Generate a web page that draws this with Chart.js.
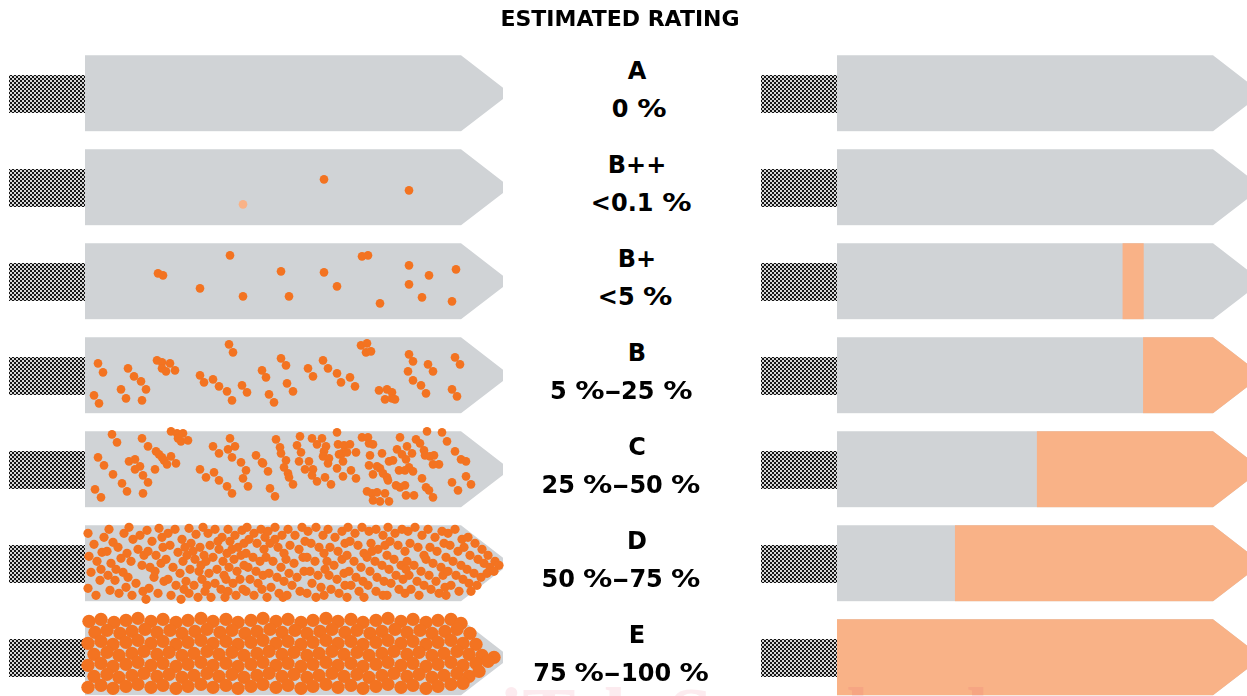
<!DOCTYPE html>
<html>
<head>
<meta charset="utf-8">
<title>Estimated rating</title>
<script src="https://cdn.jsdelivr.net/npm/chart.js@4.4.1/dist/chart.umd.min.js"></script>
<style>
    html, body { margin: 0; padding: 0; background: #fff; }
    #wrap { position: relative; width: 1247px; height: 696px; overflow: hidden; }
    canvas { position: absolute; top: 0; }
    #chartLeft { left: 0; }
    #chartRight { left: 740px; }
    .lbl {
        position: absolute; white-space: nowrap; color: #000;
        font-family: "DejaVu Sans", Verdana, sans-serif; font-weight: bold;
        font-size: 24px; line-height: 28px; height: 28px;
        transform: translateX(-50%);
    }
    .pct { display: inline-block; transform: scaleX(1.22); margin: 0 0.11em; }
    .dash { display: inline-block; transform: scaleX(1.4); margin: 0 0.1em; }
    #title { font-size: 22px; top: 5px; left: 620px; }
    #watermark {
        position: absolute; left: 500px; top: 676px; white-space: nowrap;
        font-family: "Liberation Serif", serif; font-weight: bold; font-size: 80px; line-height: 80px;
        color: rgba(230, 60, 100, 0.1); pointer-events: none;
    }
</style>
</head>
<body>
<div id="wrap">
    <canvas id="chartLeft" width="560" height="696"></canvas>
    <canvas id="chartRight" width="520" height="696"></canvas>
    <div class="lbl" id="title">ESTIMATED RATING</div>
    <div id="labels"></div>
    <div id="watermark">iTeh Standards</div>
</div>

<script>
// ---- data ----
const ratings = ['A', 'B++', 'B+', 'B', 'C', 'D', 'E'];
const ranges = ['0 %', '<0.1 %', '<5 %', '5 %–25 %', '25 %–50 %', '50 %–75 %', '75 %–100 %'];

// right pencils : orange part, in % of the pencil length (null = nothing)
const orangeFrom = [null, null, 68.4, 73.3, 47.9, 28.3, 0];
const orangeTo   = [null, null, 73.3, 100, 100, 100, 100];

// left pencils : dots, pairs x,y read inside the pencil body (418 x 76)
const dotsA = [];
const dotsBpp = [239,30, 324,41];
const dotsBppFaint = [158,55];
const dotsBp = [73,30, 78,32, 145,12, 115,45, 158,53, 196,28, 204,53, 239,29, 252,43, 277,13, 283,12,
    295,60, 324,22, 324,41, 344,32, 337,54, 371,26, 367,58];
const dotsB = [13,26, 18,35, 9,58, 14,66, 43,31, 49,39, 56,44, 61,52, 36,52, 41,61, 57,63, 72,23, 77,25,
    85,26, 77,31, 81,34, 90,33, 144,7, 148,15, 115,38, 119,45, 128,42, 134,49, 142,54, 147,63, 157,48,
    162,55, 177,33, 181,40, 184,57, 189,65, 196,21, 201,28, 202,46, 208,54, 223,31, 228,39, 238,23,
    243,31, 252,36, 256,45, 265,40, 270,49, 276,8, 282,6, 281,15, 286,14, 294,53, 302,52, 307,55, 300,62,
    307,61, 310,62, 324,17, 328,24, 323,34, 328,43, 343,27, 348,34, 336,48, 341,56, 370,20, 375,27,
    367,52, 372,59];
const dotsC = [27,3, 32,11, 13,26, 19,34, 28,43, 10,58, 16,66, 37,52, 42,60, 57,7, 63,15, 44,30, 50,28,
    55,35, 50,38, 58,44, 63,51, 58,62, 70,38, 71,20, 74,23, 77,26, 79,29, 82,33, 86,25, 91,32, 86,0, 92,2,
    98,2, 93,7, 96,10, 103,9, 115,38, 121,46, 129,41, 134,49, 142,55, 147,62, 128,15, 134,22, 143,18,
    145,7, 150,15, 147,26, 156,31, 161,39, 158,47, 163,55, 171,24, 177,31, 178,32, 183,40, 185,57, 190,65,
    191,8, 195,16, 196,22, 201,29, 199,36, 203,42, 204,46, 208,53, 215,5, 212,14, 216,21, 214,30, 220,38,
    224,30, 228,38, 227,44, 232,50, 227,7, 232,13, 237,7, 241,15, 239,20, 238,25, 244,27, 243,32, 252,37,
    240,46, 246,53, 252,1, 253,13, 254,23, 259,14, 265,13, 257,22, 262,21, 258,30, 258,45, 266,39, 271,47,
    271,21, 277,6, 283,6, 284,12, 288,13, 285,24, 284,34, 288,43, 292,35, 297,22, 295,37, 298,42, 302,46,
    303,49, 304,30, 308,29, 312,18, 315,6, 317,23, 321,28, 322,15, 324,36, 327,22, 328,40, 331,8, 335,12,
    339,19, 342,0, 340,24, 345,25, 349,24, 357,1, 362,10, 370,20, 376,28, 381,30, 354,33, 348,33, 337,47,
    341,56, 344,59, 348,66, 311,54, 315,56, 320,54, 321,64, 329,64, 314,39, 320,39, 282,60, 287,62, 292,61,
    300,62, 288,69, 295,70, 304,70, 367,51, 373,59, 381,45, 386,53];
const dotsD = [3,8, 9,19, 4,31, 12,36, 6,47, 15,55, 3,63, 11,70, 17,27, 19,12, 16,44,
    24,4, 28,17, 22,26, 33,22, 26,38, 36,33, 23,50, 30,55, 38,47, 25,65, 34,68, 39,8, 31,44,
    44,2, 48,14, 42,28, 53,24, 46,36, 57,40, 43,52, 51,58, 58,66, 47,70, 55,10, 59,30, 41,62,
    62,5, 67,16, 74,3, 63,26, 71,30, 78,22, 65,42, 76,38, 69,52, 79,56, 64,63, 73,68, 61,74, 77,12, 70,46,
    83,8, 90,4, 97,14, 85,20, 93,27, 81,34, 98,36, 88,42, 95,48, 83,54, 91,60, 99,64, 86,70, 96,74, 100,22,
    104,3, 111,9, 118,2, 106,18, 115,22, 102,30, 110,34, 119,30, 105,44, 114,46, 101,56, 109,60, 117,54,
    104,68, 113,72, 120,66, 108,26, 116,40,
    123,8, 130,4, 137,12, 125,20, 134,24, 121,36, 128,32, 138,36, 124,48, 132,44, 139,50, 122,60, 130,58,
    136,64, 126,72, 140,72, 133,16,
    143,4, 150,10, 157,5, 145,16, 153,22, 159,18, 142,28, 149,34, 156,30, 144,42, 152,46, 159,40, 141,54,
    148,58, 155,54, 143,66, 151,70, 158,64, 147,24,
    162,2, 169,8, 176,4, 164,14, 172,18, 179,24, 161,28, 168,32, 175,36, 163,42, 171,46, 178,50, 165,54,
    173,58, 161,66, 169,70, 177,64, 180,12,
    183,6, 190,2, 197,10, 185,18, 193,22, 199,28, 181,32, 188,36, 196,42, 184,48, 192,52, 199,56, 186,62,
    194,68, 182,72, 198,72, 190,14,
    203,4, 210,10, 217,2, 205,20, 214,24, 201,34, 209,38, 218,32, 204,48, 212,52, 219,46, 207,60, 215,66,
    202,70, 220,16,
    223,6, 231,2, 238,10, 226,18, 234,22, 222,32, 230,36, 239,28, 225,46, 233,50, 240,44, 227,58, 236,62,
    222,68, 231,72, 239,70,
    243,4, 250,12, 257,6, 245,22, 253,26, 260,18, 242,36, 249,40, 257,34, 244,50, 252,54, 259,48, 246,64,
    254,68, 260,60,
    263,2, 270,8, 277,2, 265,16, 273,20, 279,28, 262,30, 269,36, 276,42, 264,46, 271,52, 278,56, 266,60,
    274,66, 262,72, 279,72,
    284,6, 291,4, 298,10, 286,18, 293,24, 300,20, 282,32, 290,36, 297,40, 285,46, 292,52, 299,56, 283,60,
    291,66, 298,70, 287,26,
    303,2, 310,8, 317,4, 305,16, 313,20, 320,26, 302,30, 309,34, 316,40, 304,44, 311,50, 318,54, 306,58,
    314,64, 302,70, 320,68,
    323,6, 330,2, 337,10, 325,18, 333,22, 339,30, 322,36, 329,40, 336,46, 324,50, 332,56, 339,60, 326,64,
    334,70, 321,44,
    343,4, 350,12, 357,6, 345,22, 352,26, 359,18, 341,34, 348,38, 356,42, 344,50, 351,56, 358,50, 346,64,
    354,68, 360,62,
    363,8, 370,4, 377,14, 365,20, 373,26, 379,22, 361,32, 368,36, 376,40, 363,46, 371,50, 378,54, 366,60,
    374,66, 361,70,
    383,12, 390,18, 397,24, 385,30, 393,34, 399,38, 382,44, 389,48, 396,52, 384,58, 392,60, 386,66,
    403,30, 410,36, 405,42, 414,40, 402,48, 409,46];
const dotsE = [4,2, 16,0, 29,3, 41,1, 53,-1, 66,2, 78,0, 91,3, 103,1, 116,-1, 128,2, 141,0, 153,3, 166,1,
    178,-1, 191,2, 203,0, 216,3, 228,1, 241,-1, 253,2, 266,0, 278,3, 291,1, 303,-1, 316,2, 328,0, 341,3,
    353,1, 366,0, 376,4,
    10,13, 22,11, 35,14, 47,12, 60,10, 72,13, 85,11, 97,14, 110,12, 122,10, 135,13, 147,11, 160,14, 172,12,
    185,10, 197,13, 210,11, 222,14, 235,12, 247,10, 260,13, 272,11, 285,14, 297,12, 310,10, 322,13, 335,11,
    347,14, 360,12, 372,10, 385,14,
    3,24, 16,22, 28,25, 41,23, 53,21, 66,24, 78,22, 91,25, 103,23, 116,21, 128,24, 141,22, 153,25, 166,23,
    178,21, 191,24, 203,22, 216,25, 228,23, 241,21, 253,24, 266,22, 278,25, 291,23, 303,21, 316,24, 328,22,
    341,25, 353,23, 366,21, 378,24, 391,25,
    9,35, 22,33, 34,36, 47,34, 59,32, 72,35, 84,33, 97,36, 109,34, 122,32, 134,35, 147,33, 159,36, 172,34,
    184,32, 197,35, 209,33, 222,36, 234,34, 247,32, 259,35, 272,33, 284,36, 297,34, 309,32, 322,35, 334,33,
    347,36, 359,34, 372,32, 384,35, 397,36, 409,38,
    3,46, 16,44, 28,47, 41,45, 53,43, 66,46, 78,44, 91,47, 103,45, 116,43, 128,46, 141,44, 153,47, 166,45,
    178,43, 191,46, 203,44, 216,47, 228,45, 241,43, 253,46, 266,44, 278,47, 291,45, 303,43, 316,46, 328,44,
    341,47, 353,45, 366,43, 378,46, 391,44, 403,42,
    9,57, 22,55, 34,58, 47,56, 59,54, 72,57, 84,55, 97,58, 109,56, 122,54, 134,57, 147,55, 159,58, 172,56,
    184,54, 197,57, 209,55, 222,58, 234,56, 247,54, 259,57, 272,55, 284,58, 297,56, 309,54, 322,57, 334,55,
    347,58, 359,56, 372,54, 384,57, 394,52,
    3,68, 16,66, 28,69, 41,67, 53,65, 66,68, 78,66, 91,69, 103,67, 116,65, 128,68, 141,66, 153,69, 166,67,
    178,65, 191,68, 203,66, 216,69, 228,67, 241,65, 253,68, 266,66, 278,69, 291,67, 303,65, 316,68, 328,66,
    341,69, 353,67, 366,65, 378,64];

const dotRows = [dotsA, dotsBpp, dotsBp, dotsB, dotsC, dotsD, dotsE];
const dotSize = [4.3, 4.3, 4.3, 4.3, 4.3, 4.6, 6.7];

// ---- layout ----
const PENCIL_LEN = 418;   // body length in px
const PENCIL_H = 76;      // body height in px
const PITCH = 94;         // one row = 94 px
const TIP = 42;           // length of the pointed end
const yRange = { min: -0.993, max: 6.411 };

const GREY = '#d0d3d6';
const ORANGE = '#f37321';
const LIGHT_ORANGE = '#f9b287';

function toPoints(flat, row) {
    const pts = [];
    for (let i = 0; i < flat.length; i += 2) {
        pts.push({ x: flat[i], y: row + (flat[i + 1] - PENCIL_H / 2) / PITCH });
    }
    return pts;
}

// checker pattern for the pencil ends
function checker(ctx) {
    const pc = document.createElement('canvas');
    pc.width = 4; pc.height = 4;
    const p = pc.getContext('2d');
    p.fillStyle = '#d6d6d6';
    p.fillRect(0, 0, 4, 4);
    p.fillStyle = '#161616';
    p.fillRect(0, 0, 2, 2);
    p.fillRect(2, 2, 2, 2);
    return ctx.createPattern(pc, 'repeat');
}

function pencilPath(chart) {
    const ctx = chart.ctx;
    const xs = chart.scales.x, ys = chart.scales.y;
    const x0 = xs.getPixelForValue(xs.min);
    const x1 = xs.getPixelForValue(xs.max);
    ctx.beginPath();
    ratings.forEach((r, i) => {
        const yc = ys.getPixelForValue(i);
        const top = yc - PENCIL_H / 2, bot = yc + PENCIL_H / 2;
        ctx.moveTo(x0, top);
        ctx.lineTo(x1 - TIP, top);
        ctx.lineTo(x1, yc - 5.7);
        ctx.lineTo(x1, yc + 5.7);
        ctx.lineTo(x1 - TIP, bot);
        ctx.lineTo(x0, bot);
        ctx.closePath();
    });
}

const pencilPlugin = {
    id: 'pencil',
    beforeDatasetsDraw(chart) {
        const ctx = chart.ctx;
        const xs = chart.scales.x, ys = chart.scales.y;
        const x0 = xs.getPixelForValue(xs.min);
        ctx.save();
        ctx.fillStyle = checker(ctx);
        ratings.forEach((r, i) => {
            const yc = ys.getPixelForValue(i);
            ctx.fillRect(x0 - 76, Math.round(yc - 18.6), 76, 38);
        });
        ctx.restore();
    },
    beforeDatasetDraw(chart, args) {
        if (args.meta.type !== 'bar') return;
        chart.ctx.save();
        pencilPath(chart);
        chart.ctx.clip();
    },
    afterDatasetDraw(chart, args) {
        if (args.meta.type !== 'bar') return;
        chart.ctx.restore();
    }
};

const commonOptions = (xMax, pad) => ({
    responsive: false,
    animation: false,
    devicePixelRatio: 1,
    events: [],
    layout: { padding: pad, autoPadding: false },
    plugins: { legend: { display: false }, tooltip: { enabled: false } },
    scales: {
        x: { type: 'linear', min: 0, max: xMax, offset: false, display: false },
        y: { type: 'linear', min: yRange.min, max: yRange.max, reverse: true, offset: false, display: false }
    }
});

// left : dots on grey pencils
const leftSets = [];
dotRows.forEach((d, i) => {
    if (!d.length) return;
    leftSets.push({
        type: 'scatter',
        data: toPoints(d, i),
        backgroundColor: ORANGE,
        borderWidth: 0,
        pointRadius: dotSize[i],
        clip: false
    });
});
leftSets.push({
    type: 'scatter',
    data: toPoints(dotsBppFaint, 1),
    backgroundColor: LIGHT_ORANGE,
    borderWidth: 0,
    pointRadius: 4.3,
    clip: false
});
leftSets.push({
    type: 'bar',
    indexAxis: 'y',
    data: ratings.map((r, i) => ({ x: [0, PENCIL_LEN], y: i })),
    backgroundColor: GREY,
    barThickness: PENCIL_H,
    grouped: false,
    order: 10
});

new Chart(document.getElementById('chartLeft'), {
    type: 'scatter',
    data: { datasets: leftSets },
    options: commonOptions(PENCIL_LEN, { left: 85, right: 560 - 85 - PENCIL_LEN, top: 0, bottom: 0 }),
    plugins: [pencilPlugin]
});

// right : share of orange on each pencil
const orangeData = [];
ratings.forEach((r, i) => {
    if (orangeFrom[i] !== null) orangeData.push({ x: [orangeFrom[i], orangeTo[i]], y: i });
});

new Chart(document.getElementById('chartRight'), {
    type: 'bar',
    data: {
        datasets: [{
            data: orangeData,
            backgroundColor: LIGHT_ORANGE,
            barThickness: PENCIL_H,
            grouped: false,
            order: 1
        }, {
            data: ratings.map((r, i) => ({ x: [0, 100], y: i })),
            backgroundColor: GREY,
            barThickness: PENCIL_H,
            grouped: false,
            order: 2
        }]
    },
    options: Object.assign(commonOptions(100, { left: 97, right: 520 - 97 - PENCIL_LEN, top: 0, bottom: 0 }),
        { indexAxis: 'y' }),
    plugins: [pencilPlugin]
});

// labels in the middle
const letterX = 637;
const rangeX = [639, 641, 635, 621, 621, 621, 621];
const yPix = i => (i - yRange.min) / (yRange.max - yRange.min) * 696;
function fmt(s) {
    return s.replace(/</g, '&lt;')
        .replace(/%/g, '<span class="pct">%</span>')
        .replace(/–/g, '<span class="dash">–</span>');
}
let html = '';
ratings.forEach((r, i) => {
    const yc = yPix(i);
    html += `<div class="lbl" style="left:${letterX}px;top:${(yc - 23 - 13.6).toFixed(1)}px">${r.replace(/</g, '&lt;')}</div>`;
    html += `<div class="lbl" style="left:${rangeX[i]}px;top:${(yc + 15 - 13.6).toFixed(1)}px">${fmt(ranges[i])}</div>`;
});
document.getElementById('labels').innerHTML = html;
</script>
</body>
</html>
